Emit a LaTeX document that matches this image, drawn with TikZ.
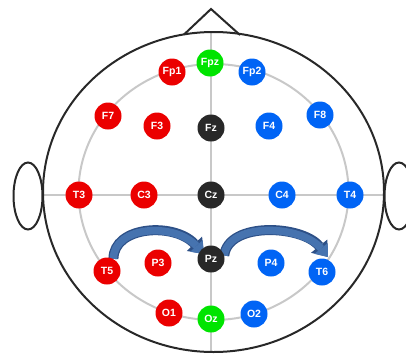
\documentclass[tikz,border=0pt]{standalone}
\usepackage{fontspec}
\setmainfont{Liberation Sans}
\usetikzlibrary{arrows.meta,calc}
\pgfdeclarelayer{bg}
\pgfsetlayers{bg,main}
\definecolor{ered}{RGB}{235,0,0}
\definecolor{eblue}{RGB}{0,100,245}
\definecolor{egreen}{RGB}{0,228,0}
\definecolor{eblack}{RGB}{40,40,40}
\definecolor{headc}{RGB}{40,40,40}
\definecolor{gridc}{RGB}{200,200,200}
\definecolor{arrowfill}{RGB}{70,115,175}
\definecolor{arrowedge}{RGB}{45,80,135}
\begin{document}
\begin{tikzpicture}[x=1pt,y=-1pt,
  electrode/.style={circle,minimum size=27pt,inner sep=0pt,text=white,
    font=\fontsize{10.5}{10.5}\selectfont\bfseries},
  redE/.style={electrode,fill=ered},
  blueE/.style={electrode,fill=eblue},
  greenE/.style={electrode,fill=egreen},
  blackE/.style={electrode,fill=eblack},
  headline/.style={draw=headc,line width=2pt},
  gridline/.style={draw=gridc,line width=2pt},
  arrowout/.style={draw=arrowedge,line width=10pt,
    -{Triangle[length=14pt,width=21pt,line width=0pt]}},
  arrowin/.style={draw=arrowfill,line width=7.5pt,
    -{Triangle[length=11pt,width=17pt,line width=0pt]}},
]
\useasboundingbox (0,0) rectangle (406,356);
\begin{pgfonlayer}{bg}
  % grid
  \draw[gridline] (213.5,192) ellipse [x radius=135, y radius=128];
  \draw[gridline] (211,32) -- (211,352);
  \draw[gridline] (43,195) -- (383,195);
  % head
  \draw[headline] (213.5,192) ellipse [x radius=170.5, y radius=160];
  \draw[headline,line join=miter] (184,34.5) -- (211,9) -- (240,35);
  \draw[headline] (28,196) ellipse [x radius=14.5, y radius=33.5];
  \draw[headline] (399,196) ellipse [x radius=14.5, y radius=33.5];
\end{pgfonlayer}
% electrodes
\node[redE]   (Fp1) at (172,72)  {Fp1};
\node[greenE] (Fpz) at (210,63)  {Fpz};
\node[blueE]  (Fp2) at (252,72)  {Fp2};
\node[redE]   (F7)  at (108,116) {F7};
\node[redE]   (F3)  at (157,126) {F3};
\node[blackE] (Fz)  at (211,128) {Fz};
\node[blueE]  (F4)  at (269,126) {F4};
\node[blueE]  (F8)  at (320,115) {F8};
\node[redE]   (T3)  at (79,195)  {T3};
\node[redE]   (C3)  at (144,195) {C3};
\node[blackE] (Cz)  at (211,195) {Cz};
\node[blueE]  (C4)  at (282,195) {C4};
\node[blueE]  (T4)  at (350,195) {T4};
\node[redE]   (T5)  at (107,271) {T5};
\node[redE]   (P3)  at (158,263) {P3};
\node[blackE] (Pz)  at (211,259) {Pz};
\node[blueE]  (P4)  at (271,263) {P4};
\node[blueE]  (T6)  at (322,272) {T6};
\node[redE]   (O1)  at (169,313) {O1};
\node[greenE] (Oz)  at (211,319) {Oz};
\node[blueE]  (O2)  at (254,314) {O2};
% arrows
\begin{pgfonlayer}{bg}
  \coordinate (a1s) at (T5.62);
  \coordinate (a1e) at ($(Pz.center)+(-7,-5)$);
  \coordinate (a2s) at (Pz.15);
  \coordinate (a2e) at ($(T6.center)+(6,-15)$);
  \foreach \st in {arrowout,arrowin}{
    \draw[\st] (a1s) .. controls +(0,-33) and +(-30,-32) .. (a1e);
    \draw[\st] (a2s) .. controls +(4,-34) and +(-26,-32) .. (a2e);
  }
\end{pgfonlayer}
\end{tikzpicture}
\end{document}
